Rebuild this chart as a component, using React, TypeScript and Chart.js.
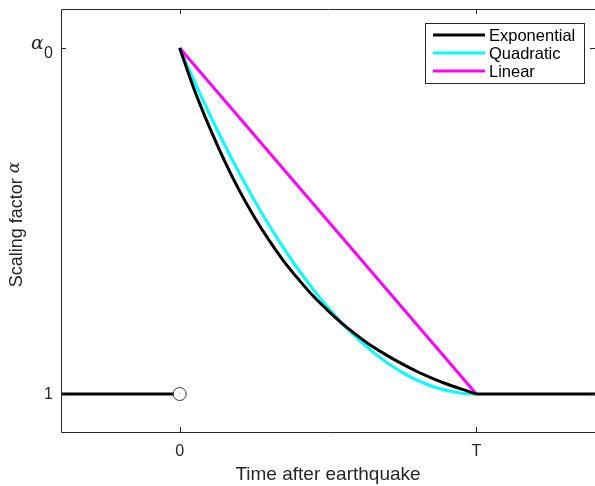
import React, { useEffect, useRef } from "react";
import { Chart, registerables } from "chart.js";

Chart.register(...registerables);

// Time in units of T (0 = earthquake, 1 = T)
const timeGrid = [0, 0.05, 0.1, 0.15, 0.2, 0.25, 0.3, 0.35, 0.4, 0.45, 0.5, 0.55, 0.6, 0.65, 0.7, 0.75, 0.8, 0.85, 0.9, 0.95, 1.0];
// Normalised scaling factor: 0 = "1", 1 = "α0"
const exponentialVals = [1, 0.878, 0.772, 0.676, 0.590, 0.514, 0.446, 0.385, 0.332, 0.283, 0.241, 0.202, 0.168, 0.137, 0.111, 0.087, 0.065, 0.046, 0.029, 0.014, 0];
const quadraticVals = [1, 0.9025, 0.81, 0.7225, 0.64, 0.5625, 0.49, 0.4225, 0.36, 0.3025, 0.25, 0.2025, 0.16, 0.1225, 0.09, 0.0625, 0.04, 0.0225, 0.01, 0.0025, 0];
const linearTimes = [0, 1];
const linearVals = [1, 0];
const beforeTimes = [-0.4, 0];
const beforeVals = [0, 0];
const afterTimes = [1, 1.4];
const afterVals = [0, 0];
const xTickValues = [0, 1];
const xTickLabels = ["0", "T"];
const yTickValues = [0, 1];
const legendLabels = ["Exponential", "Quadratic", "Linear"];
const legendColors = ["#000000", "#00ffff", "#ff00ff"];

const TXT = "#262626";
const FONT = "Liberation Sans, Arial, Helvetica, sans-serif";
const SERIF = `"DejaVu Serif", "Liberation Serif", serif`;

const pts = (xs: number[], ys: number[]) => xs.map((x, i) => ({ x, y: ys[i] }));

const decorPlugin = {
  id: "decor",
  afterDatasetsDraw(chart: any) {
    const ctx = chart.ctx as CanvasRenderingContext2D;
    const { left, right, top, bottom } = chart.chartArea;
    const xs = chart.scales.x;
    const ys = chart.scales.y;
    ctx.save();
    // open circle at (0, 1)
    const cx = xs.getPixelForValue(0);
    const cy = ys.getPixelForValue(0);
    ctx.beginPath();
    ctx.arc(cx, cy, 6.5, 0, Math.PI * 2);
    ctx.fillStyle = "#ffffff";
    ctx.fill();
    ctx.lineWidth = 1;
    ctx.strokeStyle = "#333333";
    ctx.stroke();
    ctx.fillStyle = "#bbbbbb";
    ctx.fillRect(cx - 0.5, cy - 0.5, 1, 1);

    // axes box
    ctx.strokeStyle = TXT;
    ctx.lineWidth = 1;
    ctx.beginPath();
    ctx.moveTo(left + 0.5, top + 0.5);
    ctx.lineTo(left + 0.5, bottom + 0.5);
    ctx.lineTo(right + 0.5, bottom + 0.5);
    ctx.moveTo(left + 0.5, top + 0.5);
    ctx.lineTo(right + 0.5, top + 0.5);
    ctx.lineTo(right + 0.5, bottom + 0.5);
    ctx.stroke();

    // ticks (inward, both sides)
    const tl = 5;
    ctx.beginPath();
    xTickValues.forEach((v) => {
      const px = Math.round(xs.getPixelForValue(v)) + 0.5;
      ctx.moveTo(px, bottom);
      ctx.lineTo(px, bottom - tl);
      ctx.moveTo(px, top);
      ctx.lineTo(px, top + tl);
    });
    yTickValues.forEach((v) => {
      const py = Math.round(ys.getPixelForValue(v)) + 0.5;
      ctx.moveTo(left, py);
      ctx.lineTo(left + tl, py);
      ctx.moveTo(right, py);
      ctx.lineTo(right - tl, py);
    });
    ctx.stroke();

    // x tick labels
    ctx.fillStyle = TXT;
    ctx.font = `16px ${FONT}`;
    ctx.textAlign = "center";
    ctx.textBaseline = "middle";
    xTickValues.forEach((v, i) => {
      ctx.fillText(xTickLabels[i], xs.getPixelForValue(v), bottom + 20);
    });
    // y tick labels
    ctx.textAlign = "right";
    ctx.fillText("1", left - 8, ys.getPixelForValue(0) + 1);
    const ay = ys.getPixelForValue(1);
    ctx.font = `italic 19px ${SERIF}`;
    ctx.textAlign = "left";
    ctx.fillText("α", 31, ay - 4);
    ctx.font = `16px ${FONT}`;
    ctx.fillText("0", 44, ay + 6);

    // axis titles
    ctx.font = `19px ${FONT}`;
    ctx.textAlign = "center";
    ctx.textBaseline = "middle";
    ctx.fillText("Time after earthquake", (left + right) / 2, 475);
    ctx.save();
    ctx.translate(17, (top + bottom) / 2 + 4);
    ctx.rotate(-Math.PI / 2);
    const t1 = "Scaling factor ";
    ctx.font = `18px ${FONT}`;
    const w1 = ctx.measureText(t1).width;
    ctx.font = `italic 17px ${SERIF}`;
    const w2 = ctx.measureText("α").width;
    const sx = -(w1 + w2) / 2;
    ctx.font = `18px ${FONT}`;
    ctx.textAlign = "left";
    ctx.fillText(t1, sx, 0);
    ctx.font = `italic 17px ${SERIF}`;
    ctx.fillText("α", sx + w1, -2);
    ctx.restore();

    // legend
    const lx = 425, ly = 23, lw = 159, lh = 60;
    ctx.fillStyle = "#ffffff";
    ctx.fillRect(lx, ly, lw, lh);
    ctx.strokeStyle = TXT;
    ctx.lineWidth = 1;
    ctx.strokeRect(lx + 0.5, ly + 0.5, lw, lh);
    ctx.font = `16.5px ${FONT}`;
    ctx.textAlign = "left";
    ctx.textBaseline = "middle";
    legendLabels.forEach((lab, i) => {
      const yy = ly + 12 + i * 18;
      ctx.strokeStyle = legendColors[i];
      ctx.lineWidth = 3;
      ctx.beginPath();
      ctx.moveTo(lx + 8, yy);
      ctx.lineTo(lx + 60, yy);
      ctx.stroke();
      ctx.fillStyle = "#000000";
      ctx.fillText(lab, lx + 64, yy + 1);
    });
    ctx.restore();
  },
};

export default function App() {
  const ref = useRef<HTMLCanvasElement | null>(null);
  useEffect(() => {
    document.body.style.margin = "0";
    const canvas = ref.current!;
    const common = { pointRadius: 0, fill: false, borderCapStyle: "butt" as const };
    const chart = new Chart(canvas, {
      type: "line",
      data: {
        datasets: [
          { label: "Before", data: pts(beforeTimes, beforeVals), borderColor: "#000000", borderWidth: 3, ...common, order: 1 },
          { label: "After", data: pts(afterTimes, afterVals), borderColor: "#000000", borderWidth: 3, ...common, order: 1 },
          { label: "Quadratic", data: pts(timeGrid, quadraticVals), borderColor: "#00ffff", borderWidth: 3, cubicInterpolationMode: "monotone", ...common, order: 3 },
          { label: "Linear", data: pts(linearTimes, linearVals), borderColor: "#ff00ff", borderWidth: 3, ...common, order: 2 },
          { label: "Exponential", data: pts(timeGrid, exponentialVals), borderColor: "#000000", borderWidth: 3, cubicInterpolationMode: "monotone", ...common, order: 0 },
        ],
      },
      options: {
        animation: false,
        responsive: false,
        maintainAspectRatio: false,
        layout: { padding: { left: 61, top: 9, right: 0, bottom: 54 } },
        plugins: { legend: { display: false }, tooltip: { enabled: false } },
        scales: {
          x: { type: "linear", min: -0.4, max: 1.4, display: false },
          y: { type: "linear", min: -0.1098, max: 1.1127, display: false },
        },
      },
      plugins: [decorPlugin],
    });
    return () => chart.destroy();
  }, []);
  return (
    <div style={{ width: 595, height: 486, background: "#fff" }}>
      <canvas ref={ref} width={595} height={486} style={{ display: "block" }} />
    </div>
  );
}
